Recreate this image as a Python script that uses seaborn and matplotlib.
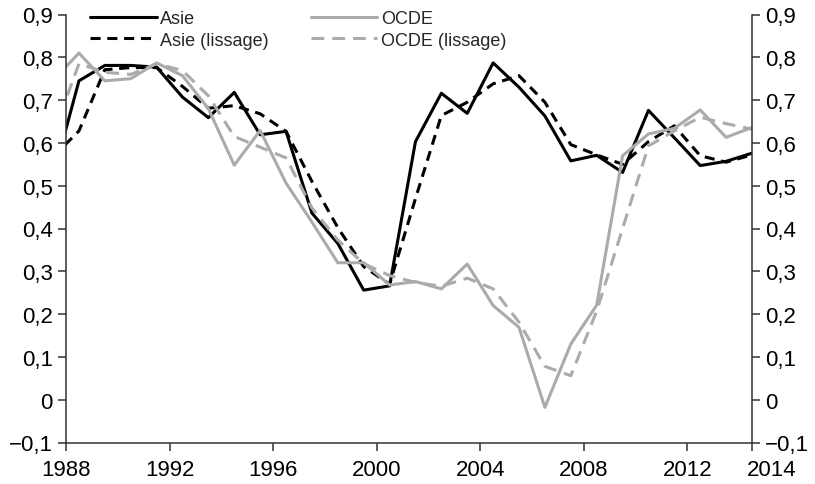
import numpy as np
import pandas as pd
import matplotlib
matplotlib.use("Agg")
import matplotlib.pyplot as plt
import seaborn as sns
from matplotlib.transforms import ScaledTranslation

# ---- data (annual values, plotted at mid-year like the Excel original) ----
years = list(range(1987, 2015))

asie = [0.52, 0.745, 0.781, 0.781, 0.777, 0.707, 0.659, 0.718, 0.619, 0.627,
        0.436, 0.365, 0.256, 0.266, 0.603, 0.716, 0.669, 0.787, 0.730, 0.663,
        0.558, 0.571, 0.531, 0.676, 0.612, 0.547, 0.557, 0.576]

asie_lissage = [0.567, 0.628, 0.771, 0.776, 0.776, 0.732, 0.681, 0.687, 0.668, 0.627,
                0.510, 0.402, 0.311, 0.270, 0.470, 0.664, 0.695, 0.738, 0.757, 0.695,
                0.596, 0.572, 0.550, 0.603, 0.640, 0.570, 0.555, 0.572]

ocde = [0.746, 0.810, 0.745, 0.750, 0.787, 0.757, 0.680, 0.548, 0.629, 0.506,
        0.415, 0.320, 0.320, 0.268, 0.276, 0.259, 0.317, 0.220, 0.169, -0.018,
        0.130, 0.221, 0.570, 0.621, 0.634, 0.677, 0.613, 0.636]

ocde_lissage = [0.620, 0.785, 0.765, 0.760, 0.785, 0.769, 0.710, 0.615, 0.590, 0.565,
                0.448, 0.373, 0.318, 0.290, 0.274, 0.265, 0.284, 0.259, 0.181, 0.078,
                0.056, 0.207, 0.400, 0.593, 0.628, 0.660, 0.645, 0.632]

series_labels = ["Asie", "Asie (lissage)", "OCDE", "OCDE (lissage)"]

x_ticks = [1988, 1992, 1996, 2000, 2004, 2008, 2012, 2014.5]
x_tick_labels = ["1988", "1992", "1996", "2000", "2004", "2008", "2012", "2014"]
y_ticks = [-0.1, 0.0, 0.1, 0.2, 0.3, 0.4, 0.5, 0.6, 0.7, 0.8, 0.9]
y_tick_labels = ["\u22120,1", "0", "0,1", "0,2", "0,3", "0,4", "0,5", "0,6", "0,7", "0,8", "0,9"]

# ---- style ----
sns.set_style("ticks")
plt.rcParams['font.family'] = ['Liberation Sans', 'DejaVu Sans']

BLACK = "#000000"
GRAY = "#ababab"
AXC = "#333333"

fig = plt.figure(figsize=(8.15, 4.85), dpi=100)
ax = fig.add_axes([66 / 815, 1 - 443.5 / 485, (752 - 66) / 815, (443.5 - 15.5) / 485])

pos = np.array(years) + 0.5
styles = [
    (asie, BLACK, "-"),
    (asie_lissage, BLACK, (0, (3.3, 2.2))),
    (ocde, GRAY, "-"),
    (ocde_lissage, GRAY, (0, (4.2, 2.6))),
]
for (vals, col, ls), lab in zip(styles, series_labels):
    sns.lineplot(x=pos, y=vals, ax=ax, color=col, linewidth=2.2,
                 linestyle=ls, label=lab, legend=True)

ax.set_xlim(1988, 2014.5)
ax.set_ylim(-0.1, 0.9)

ax.set_xticks(x_ticks)
ax.set_xticklabels(x_tick_labels)
ax.set_yticks(y_ticks)
ax.set_yticklabels(y_tick_labels)

for side in ["left", "right", "bottom"]:
    ax.spines[side].set_visible(True)
    ax.spines[side].set_color(AXC)
    ax.spines[side].set_linewidth(1.1)
ax.spines["top"].set_visible(False)

ax.tick_params(axis="y", which="both", left=True, right=True, labelleft=True,
               labelright=True, direction="out", length=5.5, width=1.1,
               color=AXC, labelsize=16, pad=4, labelcolor="black")
ax.tick_params(axis="x", direction="out", length=6, width=1.1, color=AXC,
               labelsize=16, pad=6, labelcolor="black")

# shift the last x label ("2014") to the right of the right axis like the original
offset = ScaledTranslation(20 / 100, 0, fig.dpi_scale_trans)
lbls = ax.xaxis.get_majorticklabels()
lbls[-1].set_transform(lbls[-1].get_transform() + offset)

ax.set_xlabel("")
ax.set_ylabel("")

handles, labels = ax.get_legend_handles_labels()
ax.legend(handles, labels, ncol=2, loc="upper left",
          bbox_to_anchor=(90 / 815, 1 - 11 / 485), bbox_transform=fig.transFigure,
          frameon=False, fontsize=13, handlelength=3.7, handletextpad=0.2,
          columnspacing=2.3, labelspacing=0.25, borderpad=0, borderaxespad=0)

fig.savefig("out.png", dpi=100)
